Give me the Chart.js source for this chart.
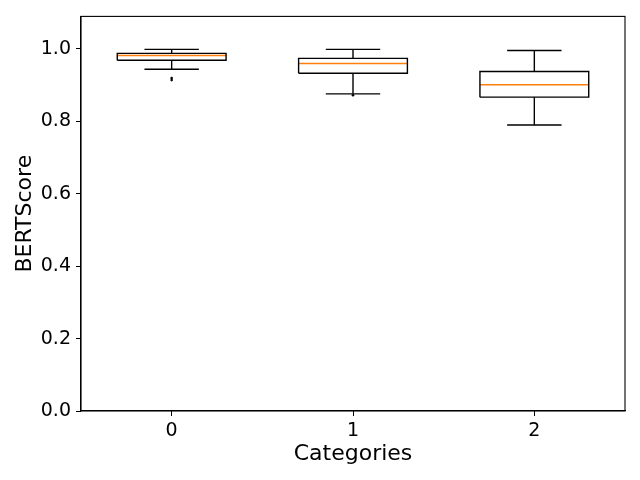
<!DOCTYPE html>
<html>
<head>
<meta charset="utf-8">
<script src="https://cdn.jsdelivr.net/npm/chart.js@4"></script>
<style>
	html, body { margin: 0; padding: 0; background: #fff; }
</style>
</head>
<body>
<canvas id="chartCanvas" width="640" height="480"></canvas>
<script>
// 箱形圖的數據
const categories = [0, 1, 2];
const whiskerLow = [0.944, 0.876, 0.790];
const q1 = [0.969, 0.933, 0.867];
const median = [0.982, 0.960, 0.901];
const q3 = [0.988, 0.974, 0.938];
const whiskerHigh = [0.999, 0.999, 0.996];
const outliers = [[0.914, 0.920], [0.872], []];
const yTicks = [0.0, 0.2, 0.4, 0.6, 0.8, 1.0];

const boxHalf = 0.3;
const capHalf = 0.15;
const FONT = "DejaVu Sans";

// 建立線段資料集
function seg(points, color) {
	return {
		data: points,
		showLine: true,
		borderColor: color,
		borderWidth: 1.4,
		pointRadius: 0,
		fill: false,
	};
}

const datasets = [];
categories.forEach((c, i) => {
	// 箱體
	datasets.push(seg([
		{ x: c - boxHalf, y: q1[i] },
		{ x: c + boxHalf, y: q1[i] },
		{ x: c + boxHalf, y: q3[i] },
		{ x: c - boxHalf, y: q3[i] },
		{ x: c - boxHalf, y: q1[i] },
	], "#000"));
	// 鬚線
	datasets.push(seg([{ x: c, y: q1[i] }, { x: c, y: whiskerLow[i] }], "#000"));
	datasets.push(seg([{ x: c, y: q3[i] }, { x: c, y: whiskerHigh[i] }], "#000"));
	datasets.push(seg([{ x: c - capHalf, y: whiskerLow[i] }, { x: c + capHalf, y: whiskerLow[i] }], "#000"));
	datasets.push(seg([{ x: c - capHalf, y: whiskerHigh[i] }, { x: c + capHalf, y: whiskerHigh[i] }], "#000"));
	// 中位數
	datasets.push(seg([{ x: c - boxHalf, y: median[i] }, { x: c + boxHalf, y: median[i] }], "#ff7f0e"));
	// 離群值
	datasets.push({
		data: outliers[i].map(v => ({ x: c, y: v })),
		showLine: false,
		pointRadius: 1.3,
		pointBackgroundColor: "#000",
		pointBorderColor: "#000",
		borderWidth: 0,
	});
});

// 畫出四周的框線
const framePlugin = {
	id: "frame",
	afterDatasetsDraw(chart) {
		const { ctx, chartArea: a } = chart;
		ctx.save();
		ctx.strokeStyle = "#000";
		ctx.lineWidth = 1.1;
		ctx.strokeRect(a.left, a.top, a.right - a.left, a.bottom - a.top);
		ctx.restore();
	},
};

const ctx = document.getElementById("chartCanvas").getContext("2d");
new Chart(ctx, {
	type: "scatter",
	data: { datasets },
	options: {
		responsive: false,
		devicePixelRatio: 1,
		animation: false,
		layout: { padding: { top: 15, right: 15, left: 0, bottom: 0 } },
		plugins: { legend: { display: false }, tooltip: { enabled: false } },
		scales: {
			x: {
				type: "linear",
				min: -0.5,
				max: 2.5,
				afterBuildTicks(scale) {
					scale.ticks = categories.map(v => ({ value: v }));
				},
				afterFit(scale) {
					scale.height = 69;
				},
				grid: { drawOnChartArea: false, color: "#000", tickLength: 5 },
				border: { color: "#000", width: 1.1 },
				ticks: {
					color: "#000",
					padding: 4,
					font: { family: FONT, size: 19 },
					callback: v => String(v),
				},
				title: {
					display: true,
					text: "Categories",
					color: "#000",
					font: { family: FONT, size: 22 },
					padding: { top: 4, bottom: 13 },
				},
			},
			y: {
				min: 0,
				max: 1.09,
				afterBuildTicks(scale) {
					scale.ticks = yTicks.map(v => ({ value: v }));
				},
				afterFit(scale) {
					scale.width = 81;
				},
				grid: { drawOnChartArea: false, color: "#000", tickLength: 5 },
				border: { color: "#000", width: 1.1 },
				ticks: {
					color: "#000",
					padding: 5,
					font: { family: FONT, size: 19 },
					callback: v => v.toFixed(1),
				},
				title: {
					display: true,
					text: "BERTScore",
					color: "#000",
					font: { family: FONT, size: 22 },
					padding: { top: 12, bottom: 4 },
				},
			},
		},
	},
	plugins: [framePlugin],
});
</script>
</body>
</html>
